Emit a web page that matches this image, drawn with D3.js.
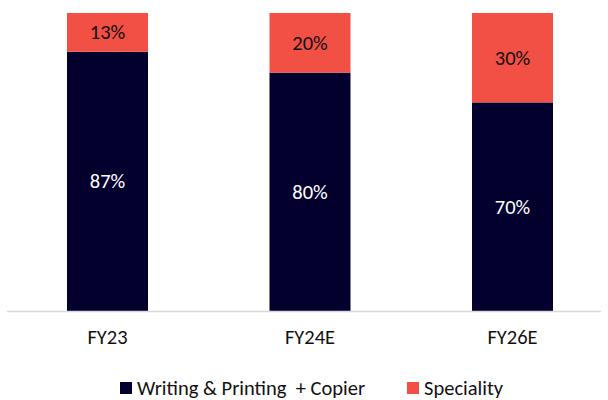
<!DOCTYPE html>
<html>
<head>
<meta charset="utf-8">
<script src="https://cdn.jsdelivr.net/npm/d3@7"></script>
<style>
  html, body { margin: 0; padding: 0; background: #fff; }
  svg { display: block; font-family: Carlito, Calibri, "Open Sans", sans-serif; }
</style>
</head>
<body>
<svg id="chart" width="608" height="400"></svg>
<script>
const categories = ["FY23", "FY24E", "FY26E"];
const writingPrinting = [87, 80, 70];
const speciality = [13, 20, 30];
const seriesNames = ["Writing & Printing  + Copier", "Speciality"];
const colors = ["#03002e", "#f24f45"];
const fontFamily = "Carlito, Calibri, 'Open Sans', sans-serif";
const fontSize = 20.5;

const svg = d3.select("#chart");

const x = d3.scaleBand()
  .domain(categories)
  .range([6.25, 613.75])
  .paddingInner(0.6)
  .paddingOuter(0.3);

const y = d3.scaleLinear().domain([0, 100]).range([311, 13]);

const rows = categories.map((c, i) => ({ cat: c, a: writingPrinting[i], b: speciality[i] }));

// stacked bars
const bars = svg.append("g");
bars.selectAll("rect.a").data(rows).join("rect")
  .attr("x", d => x(d.cat)).attr("width", x.bandwidth())
  .attr("y", d => y(d.a)).attr("height", d => y(0) - y(d.a))
  .attr("fill", colors[0]);
bars.selectAll("rect.b").data(rows).join("rect")
  .attr("x", d => x(d.cat)).attr("width", x.bandwidth())
  .attr("y", d => y(d.a + d.b)).attr("height", d => y(d.a) - y(d.a + d.b))
  .attr("fill", colors[1]);

// value labels
bars.selectAll("text.a").data(rows).join("text")
  .attr("x", d => x(d.cat) + x.bandwidth() / 2)
  .attr("y", d => y(d.a / 2))
  .attr("text-anchor", "middle").attr("dominant-baseline", "central")
  .attr("font-size", fontSize).attr("fill", "#fff")
  .text(d => d.a + "%");
bars.selectAll("text.b").data(rows).join("text")
  .attr("x", d => x(d.cat) + x.bandwidth() / 2)
  .attr("y", d => y(d.a + d.b / 2))
  .attr("text-anchor", "middle").attr("dominant-baseline", "central")
  .attr("font-size", fontSize).attr("fill", "#111")
  .text(d => d.b + "%");

// baseline axis
const axis = svg.append("g").attr("transform", `translate(0,${y(0)})`)
  .call(d3.axisBottom(x).tickSize(0).tickPadding(18));
axis.select(".domain").remove();
axis.append("line").attr("x1", 7).attr("x2", 601).attr("y1", 0.5).attr("y2", 0.5)
  .attr("stroke", "#d9d9d9").attr("stroke-width", 1.5);
axis.selectAll(".tick text")
  .attr("font-size", fontSize).attr("fill", "#111")
  .attr("font-family", fontFamily);

// legend
const legendItems = [
  { name: seriesNames[0], color: colors[0], x: 120 },
  { name: seriesNames[1], color: colors[1], x: 407 }
];
const legend = svg.append("g");
const li = legend.selectAll("g").data(legendItems).join("g")
  .attr("transform", d => `translate(${d.x},388)`);
li.append("rect").attr("x", 0).attr("y", -6).attr("width", 12).attr("height", 12)
  .attr("fill", d => d.color);
li.append("text").attr("x", 17).attr("y", 0)
  .attr("dominant-baseline", "central")
  .attr("font-size", fontSize).attr("fill", "#111")
  .style("white-space", "pre")
  .text(d => d.name);
</script>
</body>
</html>
